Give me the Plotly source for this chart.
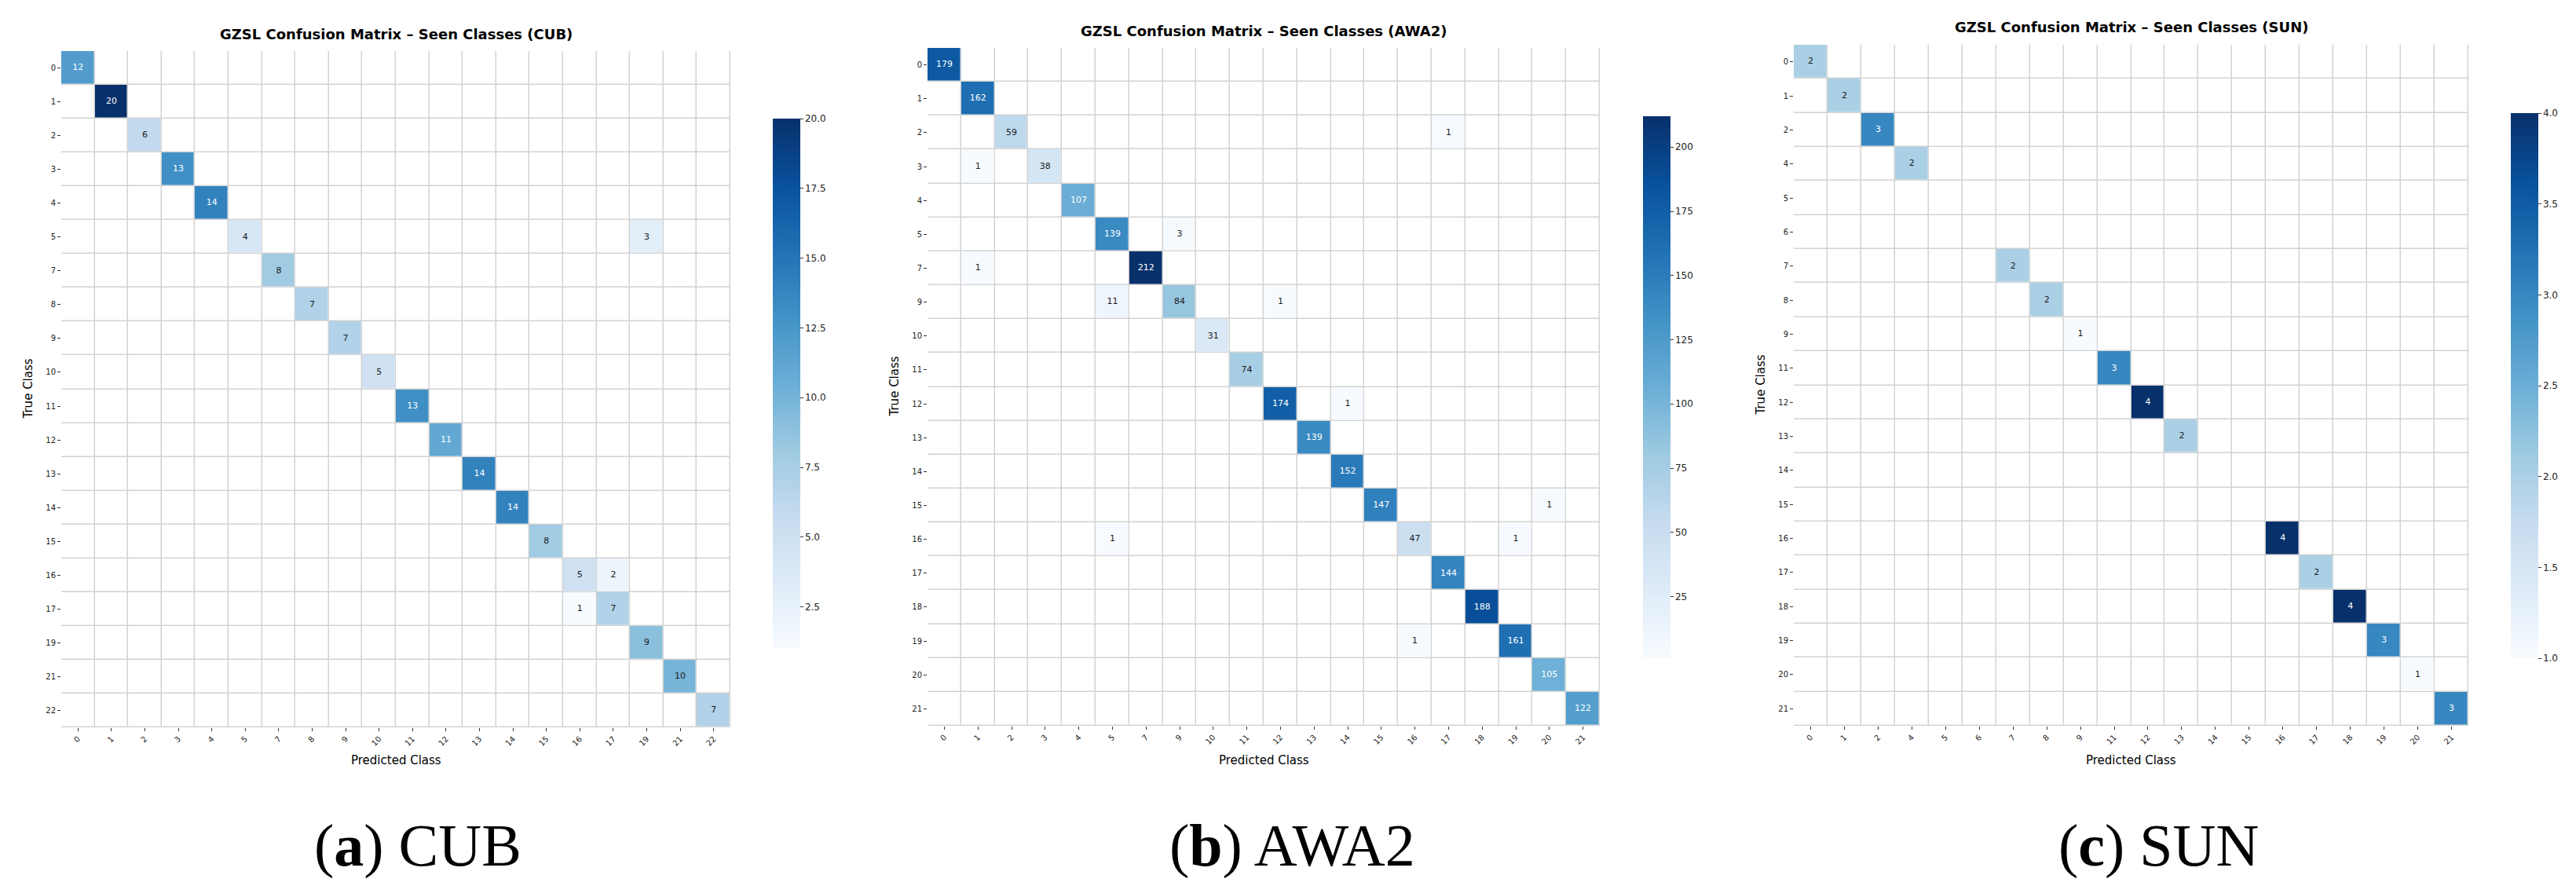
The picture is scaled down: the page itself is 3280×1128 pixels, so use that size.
import plotly.graph_objects as go
import plotly.express as px

W, H = 3280, 1128

cub_labels = ["0", "1", "2", "3", "4", "5", "7", "8", "9", "10",
              "11", "12", "13", "14", "15", "16", "17", "19", "21", "22"]
cub_diag = [12, 20, 6, 13, 14, 4, 8, 7, 7, 5, 13, 11, 14, 14, 8, 5, 7, 9, 10, 7]
cub_off = [("5", "19", 3), ("16", "17", 2), ("17", "16", 1)]

awa_labels = ["0", "1", "2", "3", "4", "5", "7", "9", "10", "11",
              "12", "13", "14", "15", "16", "17", "18", "19", "20", "21"]
awa_diag = [179, 162, 59, 38, 107, 139, 212, 84, 31, 74,
            174, 139, 152, 147, 47, 144, 188, 161, 105, 122]
awa_off = [("2", "17", 1), ("3", "1", 1), ("5", "9", 3), ("7", "1", 1),
           ("9", "5", 11), ("9", "12", 1), ("12", "14", 1), ("15", "20", 1),
           ("16", "5", 1), ("16", "19", 1), ("19", "16", 1)]

sun_labels = ["0", "1", "2", "4", "5", "6", "7", "8", "9", "11",
              "12", "13", "14", "15", "16", "17", "18", "19", "20", "21"]
sun_diag = [2, 2, 3, 2, 0, 0, 2, 2, 1, 3, 4, 2, 0, 0, 4, 2, 4, 3, 1, 3]
sun_off = []

cub_cbar_dtick = 2.5
awa_cbar_dtick = 25
sun_cbar_dtick = 0.5


def build(labels, diag, off):
    n = len(labels)
    z = [[0] * n for _ in range(n)]
    for i, v in enumerate(diag):
        z[i][i] = v
    for r, c, v in off:
        z[labels.index(r)][labels.index(c)] = v
    return z


panels = [
    dict(name="CUB", tag="a", labels=cub_labels, z=build(cub_labels, cub_diag, cub_off),
         dtick=cub_cbar_dtick, fmt=".1f",
         hx=(70, 922), hy=(57, 918), cbx=976, cby=(143, 818), ty=36, cap=524),
    dict(name="AWA2", tag="b", labels=awa_labels, z=build(awa_labels, awa_diag, awa_off),
         dtick=awa_cbar_dtick, fmt="d",
         hx=(1173, 2029), hy=(53, 916), cbx=2084, cby=(140, 830), ty=31, cap=1637),
    dict(name="SUN", tag="c", labels=sun_labels, z=build(sun_labels, sun_diag, sun_off),
         dtick=sun_cbar_dtick, fmt=".1f",
         hx=(2276, 3135), hy=(49, 916), cbx=3189, cby=(136, 830), ty=27, cap=2740),
]

blues = px.colors.sequential.Blues
GRID = "#d2d2d2"
fig = go.Figure()
annotations = []

for k, p in enumerate(panels, start=1):
    labels = p["labels"]
    n = len(labels)
    z = p["z"]
    vals = [v for row in z for v in row if v > 0]
    zmin, zmax = min(vals), max(vals)
    masked = [[v if v > 0 else None for v in row] for row in z]
    xa = "x" if k == 1 else "x%d" % k
    ya = "y" if k == 1 else "y%d" % k

    # white background cells, grid shows through the gaps
    fig.add_trace(go.Heatmap(
        x=labels, y=labels, z=[[0] * n for _ in range(n)],
        colorscale=[[0, "white"], [1, "white"]], showscale=False,
        xgap=1.5, ygap=1.5, hoverinfo="skip", xaxis=xa, yaxis=ya))

    cb_top, cb_bot = p["cby"]
    fig.add_trace(go.Heatmap(
        x=labels, y=labels, z=masked, colorscale=blues, zmin=zmin, zmax=zmax,
        xgap=1.5, ygap=1.5, xaxis=xa, yaxis=ya,
        colorbar=dict(
            x=p["cbx"] / W, xanchor="left", xpad=0,
            y=1 - (cb_top + cb_bot) / 2 / H, yanchor="middle", ypad=0,
            len=cb_bot - cb_top, lenmode="pixels",
            thickness=35, thicknessmode="pixels", outlinewidth=0,
            tick0=0, dtick=p["dtick"], tickformat=p["fmt"],
            ticks="outside", ticklen=4, tickcolor="#333",
            tickfont=dict(family="DejaVu Sans", size=12, color="#222"))))

    # cell counts
    tx, ty, tt, tc = [], [], [], []
    for i in range(n):
        for j in range(n):
            v = z[i][j]
            if v > 0:
                tx.append(labels[j])
                ty.append(labels[i])
                tt.append(str(v))
                frac = (v - zmin) / (zmax - zmin)
                tc.append("white" if frac > 0.48 else "#1a1a1a")
    fig.add_trace(go.Scatter(
        x=tx, y=ty, text=tt, mode="text", hoverinfo="skip", showlegend=False,
        textfont=dict(family="DejaVu Sans", size=11, color=tc),
        xaxis=xa, yaxis=ya))

    x0, x1 = p["hx"]
    y0, y1 = p["hy"]
    axis_common = dict(type="category", showgrid=False, zeroline=False, showline=False,
                       ticks="outside", ticklen=4, tickcolor="#333",
                       categoryorder="array", categoryarray=labels,
                       tickfont=dict(family="DejaVu Sans", size=10, color="#222"))
    fig.update_layout({
        ("xaxis" if k == 1 else "xaxis%d" % k): dict(
            axis_common, domain=[x0 / W, x1 / W], anchor=ya, tickangle=-45,
            range=[-0.5, n - 0.5]),
        ("yaxis" if k == 1 else "yaxis%d" % k): dict(
            axis_common, domain=[1 - y1 / H, 1 - y0 / H], anchor=xa,
            range=[n - 0.5, -0.5]),
    })

    cx = (x0 + x1) / 2
    annotations += [
        dict(text="<b>GZSL Confusion Matrix – Seen Classes (%s)</b>" % p["name"],
             x=cx / W, y=1 - p["ty"] / H, xanchor="center", yanchor="middle",
             font=dict(family="DejaVu Sans", size=18, color="black")),
        dict(text="Predicted Class", x=cx / W, y=1 - 960 / H,
             xanchor="center", yanchor="middle",
             font=dict(family="DejaVu Sans", size=15, color="black")),
        dict(text="True Class", x=(x0 - 43) / W, y=1 - (y0 + y1) / 2 / H,
             textangle=-90, xanchor="center", yanchor="middle",
             font=dict(family="DejaVu Sans", size=15, color="black")),
        dict(text="(<b>%s</b>) %s" % (p["tag"], p["name"]), x=p["cap"] / W, y=1 - 1068 / H,
             xanchor="center", yanchor="middle",
             font=dict(family="Liberation Serif", size=76, color="black")),
    ]

for a in annotations:
    a.update(xref="paper", yref="paper", showarrow=False)

fig.update_layout(
    width=W, height=H, margin=dict(l=0, r=0, t=0, b=0),
    paper_bgcolor="white", plot_bgcolor=GRID, showlegend=False,
    annotations=annotations)

fig.write_html("out.html")
